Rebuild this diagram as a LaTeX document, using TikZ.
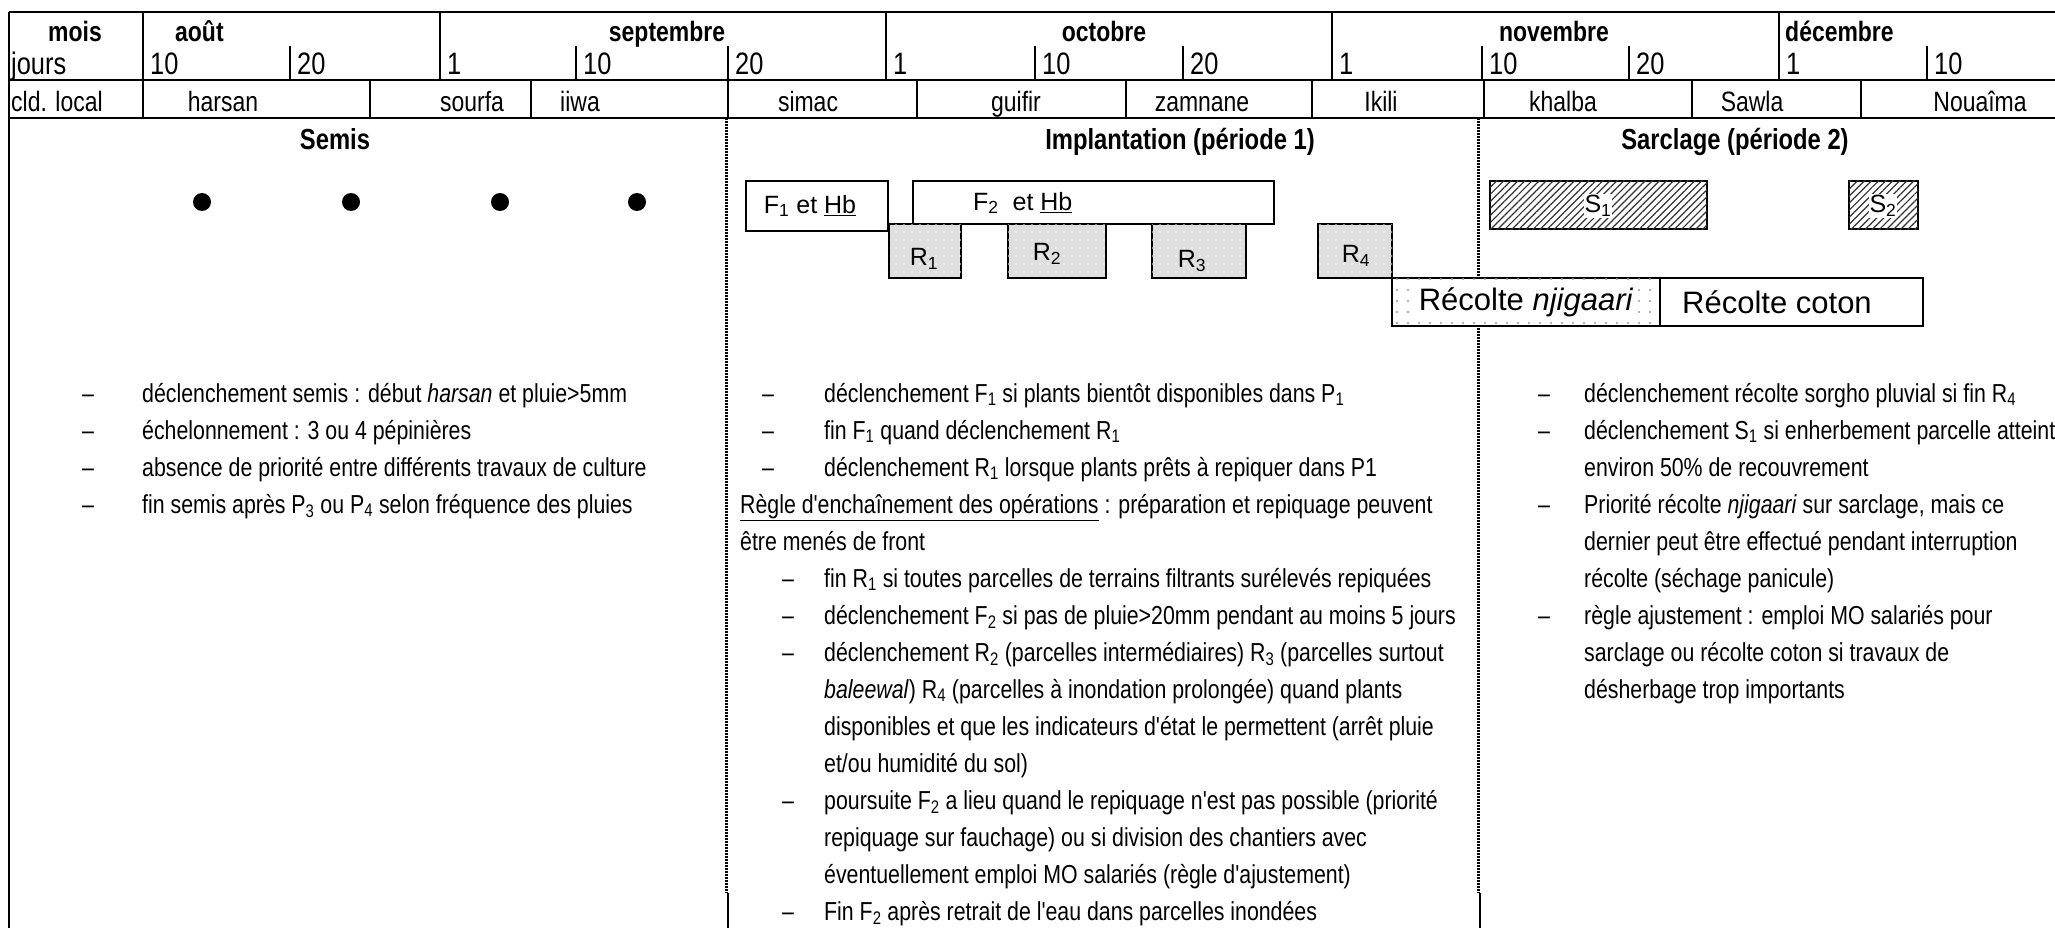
\documentclass[tikz,border=0pt]{standalone}
\usepackage{fontspec}
\setmainfont{Liberation Sans}
\newfontfamily\narrowfont{Liberation Sans}[FakeStretch=0.82]
\usetikzlibrary{patterns.meta}

\newcommand{\bodyfont}{\narrowfont\fontsize{26}{37}\selectfont}
\newcommand{\headfont}{\narrowfont\bfseries\fontsize{29}{34}\selectfont}
\newcommand{\calboldfont}{\narrowfont\bfseries\fontsize{28}{32}\selectfont}
\newcommand{\caldaysfont}{\narrowfont\fontsize{31}{34}\selectfont}
\newcommand{\calnamefont}{\narrowfont\fontsize{28}{32}\selectfont}
\newcommand{\boxfont}{\fontsize{25}{28}\selectfont}
\newcommand{\harvestfont}{\fontsize{31}{34}\selectfont}

\begin{document}
\begin{tikzpicture}[x=1pt, y=-1pt,
    gridline/.style={line width=2.5pt},
    coldiv/.style={line width=3pt, dash pattern=on 2pt off 1pt},
    calbold/.style={font=\calboldfont, inner sep=0pt},
    caldays/.style={font=\caldaysfont, inner sep=0pt},
    calname/.style={font=\calnamefont, inner sep=0pt},
    heading/.style={font=\headfont, inner sep=0pt, anchor=base},
    bodytext/.style={font=\bodyfont, inner sep=0pt, anchor=base west},
    opbox/.style={draw, line width=2pt, fill=white},
    rbox/.style={opbox, fill=gray!25, postaction={pattern={Dots[radius=0.9pt,distance=8pt]}, pattern color=white}},
    njbox/.style={opbox, postaction={pattern={Dots[radius=1.2pt,distance=11pt]}, pattern color=gray!80}},
    sbox/.style={opbox, postaction={pattern={Lines[angle=45,distance=5pt,line width=1.2pt]}, pattern color=black!80}},
    boxlabel/.style={font=\boxfont, inner sep=1pt},
    harvest/.style={font=\harvestfont, inner sep=1pt}]
    \useasboundingbox (0,0) rectangle (2055,928);
    \clip (0,0) rectangle (2055,928);

    % calendar header
    \draw[gridline] (9,12) -- (2055,12);
    \draw[gridline] (9,80) -- (2055,80);
    \draw[gridline] (9,118) -- (2055,118);
    \draw[gridline] (9,12) -- (9,928);
    \foreach \x in {143,440,886,1332,1779} \draw[gridline] (\x,12) -- (\x,80);
    \foreach \x in {290,576,728,1035,1183,1482,1629,1927} \draw[gridline] (\x,46) -- (\x,80);
    \foreach \x in {143,370,531,728,917,1126,1312,1484,1692,1861} \draw[gridline] (\x,80) -- (\x,118);

    \node[calbold, anchor=base] (mois) at (75,42) {mois};
    \node[calbold, anchor=base west] (aout) at (175,42) {août};
    \node[calbold, anchor=base] (sept) at (667,42) {septembre};
    \node[calbold, anchor=base] (oct) at (1104,42) {octobre};
    \node[calbold, anchor=base] (nov) at (1554,42) {novembre};
    \node[calbold, anchor=base west] (dec) at (1785,42) {décembre};

    \node[caldays, anchor=base west] (jours) at (11,75) {jours};
    \foreach \x/\j [count=\k] in {143/10,290/20,440/1,576/10,728/20,886/1,1035/10,1183/20,1332/1,1482/10,1629/20,1779/1,1927/10}
        \node[caldays, anchor=base west] (j\k) at (\x+7,75) {\j};

    \node[calname, anchor=base west] (cld) at (11,112) {cld. local};
    \foreach \x/\n [count=\k] in {223/harsan,472/sourfa,580/iiwa,808/simac,1016/guifir,1202/zamnane,1381/Ikili,1563/khalba,1752/Sawla,1980/Nouaîma}
        \node[calname, anchor=base] (c\k) at (\x,112) {\n};

    % period dividers
    \draw[coldiv] (726,118) -- (726,893);
    \draw[gridline] (728,893) -- (728,928);
    \draw[coldiv] (1478,118) -- (1478,893);
    \draw[gridline] (1480,893) -- (1480,928);

    \node[heading] (semis) at (335,150) {Semis};
    \node[heading] (impl) at (1180,150) {Implantation (période 1)};
    \node[heading] (sarcl) at (1735,150) {Sarclage (période 2)};

    % nurseries
    \foreach \x in {202,351,500,637} \fill (\x,202) circle[radius=9];

    % operations
    \draw[opbox] (746,181) rectangle (888,231);
    \node[boxlabel] (f1) at (810,206) {F\textsubscript{1} et \underline{Hb}};
    \draw[opbox] (913,181) rectangle (1274,224);
    \node[boxlabel, anchor=west] (f2) at (972,203) {F\textsubscript{2}\ \ et \underline{Hb}};

    \draw[rbox] (889,224) rectangle (961,278);
    \node[boxlabel] (r1) at (924,259) {R\textsubscript{1}};
    \draw[rbox] (1008,224) rectangle (1106,278);
    \node[boxlabel] (r2) at (1047,254) {R\textsubscript{2}};
    \draw[rbox] (1152,224) rectangle (1246,278);
    \node[boxlabel] (r3) at (1192,261) {R\textsubscript{3}};
    \draw[rbox] (1318,224) rectangle (1392,278);
    \node[boxlabel] (r4) at (1356,256) {R\textsubscript{4}};

    \draw[njbox] (1392,278) rectangle (1660,326);
    \node[harvest, fill=white, inner sep=3pt] (njig) at (1526,302) {Récolte \textit{njigaari}};
    \draw[opbox] (1660,278) rectangle (1923,326);
    \node[harvest, anchor=west] (coton) at (1681,302) {Récolte coton};

    \draw[sbox] (1490,181) rectangle (1707,229);
    \node[boxlabel, fill=white] (s1) at (1598,206) {S\textsubscript{1}};
    \draw[sbox] (1849,181) rectangle (1918,229);
    \node[boxlabel, fill=white] (s2) at (1883,206) {S\textsubscript{2}};

    % rules
    \node[bodytext] (semisrules) at (82,402) {\begin{tabular}[t]{@{}p{60pt}@{}l@{}}
        – & déclenchement semis : début \textit{harsan} et pluie>5mm\\
        – & échelonnement : 3 ou 4 pépinières\\
        – & absence de priorité entre différents travaux de culture\\
        – & fin semis après P\textsubscript{3} ou P\textsubscript{4} selon fréquence des pluies
    \end{tabular}};

    \node[bodytext] (implrules) at (740,402) {\begin{tabular}[t]{@{}p{84pt}@{}l@{}}
        \hspace*{22pt}– & déclenchement F\textsubscript{1} si plants bientôt disponibles dans P\textsubscript{1}\\
        \hspace*{22pt}– & fin F\textsubscript{1} quand déclenchement R\textsubscript{1}\\
        \hspace*{22pt}– & déclenchement R\textsubscript{1} lorsque plants prêts à repiquer dans P1\\
        \multicolumn{2}{@{}l@{}}{\underline{Règle d'enchaînement des opérations} : préparation et repiquage peuvent}\\
        \multicolumn{2}{@{}l@{}}{être menés de front}\\
        \hspace*{42pt}– & fin R\textsubscript{1} si toutes parcelles de terrains filtrants surélevés repiquées\\
        \hspace*{42pt}– & déclenchement F\textsubscript{2} si pas de pluie>20mm pendant au moins 5 jours\\
        \hspace*{42pt}– & déclenchement R\textsubscript{2} (parcelles intermédiaires) R\textsubscript{3} (parcelles surtout\\
        & \textit{baleewal}) R\textsubscript{4} (parcelles à inondation prolongée) quand plants\\
        & disponibles et que les indicateurs d'état le permettent (arrêt pluie\\
        & et/ou humidité du sol)\\
        \hspace*{42pt}– & poursuite F\textsubscript{2} a lieu quand le repiquage n'est pas possible (priorité\\
        & repiquage sur fauchage) ou si division des chantiers avec\\
        & éventuellement emploi MO salariés (règle d'ajustement)\\
        \hspace*{42pt}– & Fin F\textsubscript{2} après retrait de l'eau dans parcelles inondées
    \end{tabular}};

    \node[bodytext] (sarclrules) at (1538,402) {\begin{tabular}[t]{@{}p{46pt}@{}l@{}}
        – & déclenchement récolte sorgho pluvial si fin R\textsubscript{4}\\
        – & déclenchement S\textsubscript{1} si enherbement parcelle atteint\\
        & environ 50\% de recouvrement\\
        – & Priorité récolte \textit{njigaari} sur sarclage, mais ce\\
        & dernier peut être effectué pendant interruption\\
        & récolte (séchage panicule)\\
        – & règle ajustement : emploi MO salariés pour\\
        & sarclage ou récolte coton si travaux de\\
        & désherbage trop importants
    \end{tabular}};
\end{tikzpicture}
\end{document}
